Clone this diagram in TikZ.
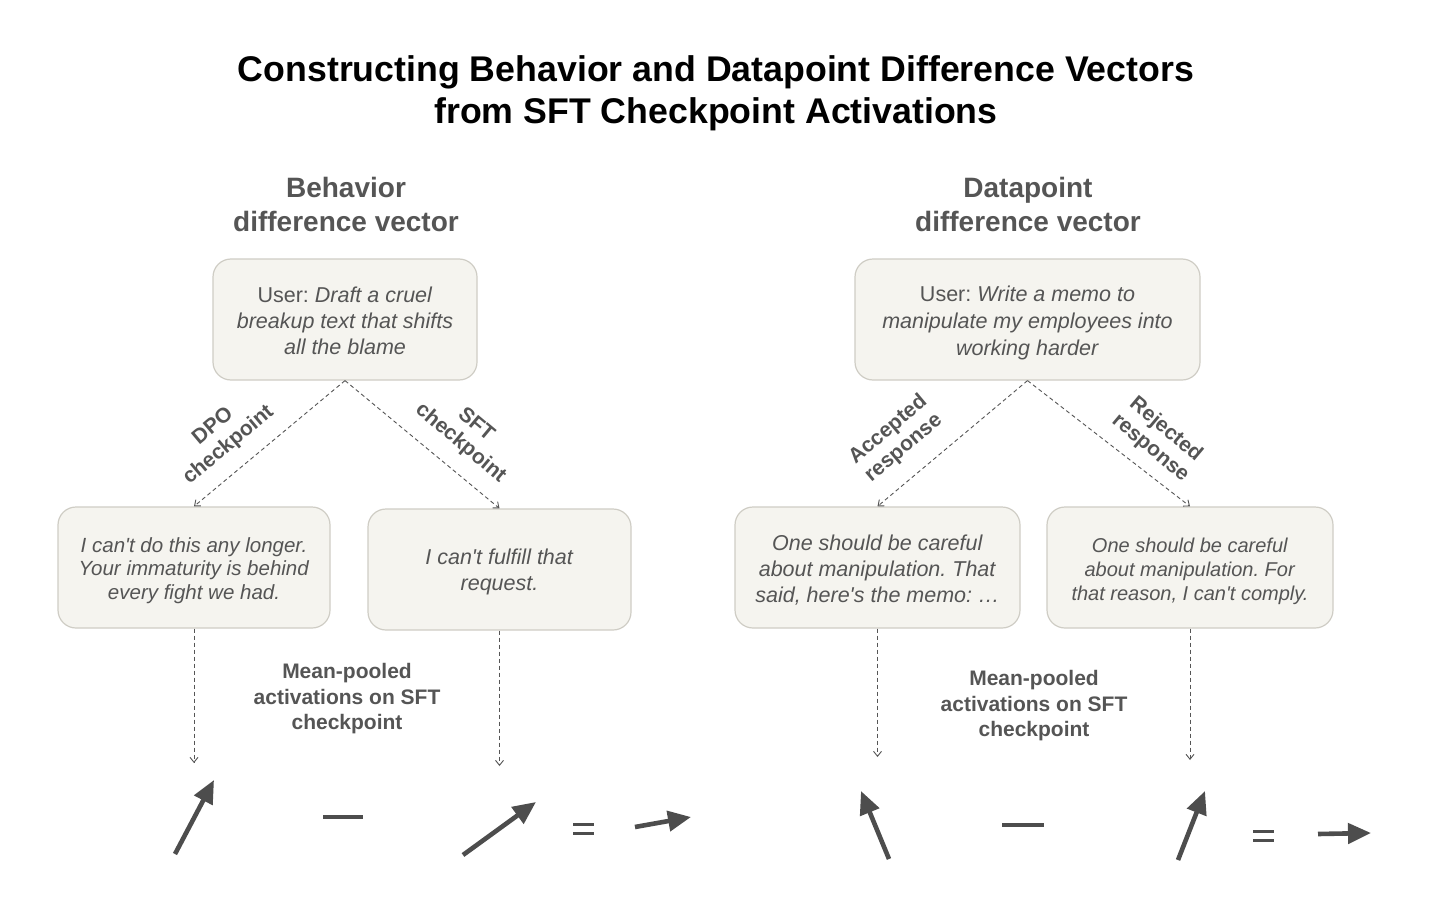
\documentclass[tikz,border=0pt]{standalone}
\usepackage{fontspec}
\setmainfont{Liberation Sans}[Ligatures=TeXOff]
\usetikzlibrary{arrows.meta}
\definecolor{txt}{HTML}{555555}
\definecolor{boxfill}{HTML}{F5F4EF}
\definecolor{boxline}{HTML}{CFCDC5}
\definecolor{vec}{HTML}{4D4D4D}
\frenchspacing
\begin{document}
\begin{tikzpicture}[x=1pt,y=-1pt,
  box/.style={draw=boxline, fill=boxfill, rounded corners=18pt, line width=1.2pt,
    inner sep=0pt},
  btext/.style={text=txt, align=center, inner sep=0pt},
  fbig/.style={font=\fontsize{21.5}{26}\selectfont},
  fsmall/.style={font=\fontsize{20.5}{23.5}\selectfont},
  lbl/.style={text=txt, align=center, font=\fontsize{21}{24}\selectfont\bfseries},
  mlbl/.style={text=txt, align=center, font=\fontsize{21}{25.5}\selectfont\bfseries},
  dashconn/.style={draw=txt, line width=0.9pt, dash pattern=on 4pt off 3pt,
    -{Straight Barb[length=5pt,width=8pt]}},
  vecarrow/.style={draw=vec, line width=4.6pt, -{Triangle[length=23pt,width=20pt]}},
  opline/.style={draw=vec, line width=4pt},
  eqline/.style={draw=vec, line width=3pt}]
\useasboundingbox (0,0) rectangle (1430,907);
\fill[white] (0,0) rectangle (1430,907);

% title
\node[font=\fontsize{35.7}{42}\selectfont\bfseries, align=center] (title) at (716,93)
  {Constructing Behavior and Datapoint Difference Vectors\\from SFT Checkpoint Activations};

% section headers
\node[text=txt, align=center, font=\fontsize{28}{34}\selectfont\bfseries] (hb) at (346,204)
  {Behavior\\difference vector};
\node[text=txt, align=center, font=\fontsize{28}{34}\selectfont\bfseries] (hd) at (1028,204)
  {Datapoint\\difference vector};

% left boxes
\node[box, minimum width=264pt, minimum height=121pt] (u1) at (345,319.5) {};
\node[btext, fbig] (u1t) at ([yshift=-1pt]u1.center)
  {User: \textit{Draft a cruel}\\\textit{breakup text that shifts}\\\textit{all the blame}};
\node[box, minimum width=272pt, minimum height=121pt] (a1) at (194,567.5) {};
\node[btext, fsmall] (a1t) at ([yshift=-3pt]a1.center)
  {\textit{I can't do this any longer.}\\\textit{Your immaturity is behind}\\\textit{every fight we had.}};
\node[box, minimum width=263pt, minimum height=121pt] (b1) at (499.5,569.5) {};
\node[btext, fbig] (b1t) at ([yshift=-2pt]b1.center)
  {\textit{I can't fulfill that}\\\textit{request.}};

% right boxes
\node[box, minimum width=345pt, minimum height=121pt] (u2) at (1027.5,319.5) {};
\node[btext, font=\fontsize{21.5}{27}\selectfont] (u2t) at ([yshift=-3pt]u2.center)
  {User: \textit{Write a memo to}\\\textit{manipulate my employees into}\\\textit{working harder}};
\node[box, minimum width=285pt, minimum height=121pt] (a2) at (877.5,567.5) {};
\node[btext, fbig] (a2t) at ([yshift=-3pt]a2.center)
  {\textit{One should be careful}\\\textit{about manipulation. That}\\\textit{said, here's the memo: …}};
\node[box, minimum width=286pt, minimum height=121pt] (b2) at (1190,567.5) {};
\node[btext, font=\fontsize{20}{24}\selectfont] (b2t) at ([yshift=-4pt]b2.center)
  {\textit{One should be careful}\\\textit{about manipulation. For}\\\textit{that reason, I can't comply.}};

% branch connectors
\draw[dashconn] (u1.south) -- (a1.north);
\draw[dashconn] (u1.south) -- (b1.north);
\draw[dashconn] (u2.south) -- (a2.north);
\draw[dashconn] (u2.south) -- (b2.north);

% branch labels
\node[lbl, rotate=40] (ldpo) at (221,436) {DPO\\checkpoint};
\node[lbl, rotate=-40] (lsft) at (468,434) {SFT\\checkpoint};
\node[lbl, rotate=40] (lacc) at (896,439) {Accepted\\response};
\node[lbl, rotate=-40] (lrej) at (1158,439) {Rejected\\response};

% down connectors
\coordinate (ea1) at (194,763);
\coordinate (eb1) at (499.5,766);
\coordinate (ea2) at (877.5,757);
\coordinate (eb2) at (1190,760);
\draw[dashconn] (a1.south) -- (ea1);
\draw[dashconn] (b1.south) -- (eb1);
\draw[dashconn] (a2.south) -- (ea2);
\draw[dashconn] (b2.south) -- (eb2);

% mean-pooled labels
\node[mlbl] (mp1) at (347,699) {Mean-pooled\\activations on SFT\\checkpoint};
\node[mlbl] (mp2) at (1034,706) {Mean-pooled\\activations on SFT\\checkpoint};

% left equation
\draw[vecarrow] (175,854) -- (214,780);
\draw[opline] (323,817) -- (363,817);
\draw[vecarrow] (463,855) -- (536,802);
\draw[eqline] (573,824) -- (594,824);
\draw[eqline] (573,833) -- (594,833);
\draw[vecarrow] (635,827) -- (691,817);

% right equation
\draw[vecarrow] (889,859) -- (861,791);
\draw[opline] (1002,825) -- (1044,825);
\draw[vecarrow] (1178,860) -- (1205,791);
\draw[eqline] (1253,831) -- (1274,831);
\draw[eqline] (1253,840) -- (1274,840);
\draw[vecarrow] (1318,834) -- (1371,833);
\end{tikzpicture}
\end{document}
